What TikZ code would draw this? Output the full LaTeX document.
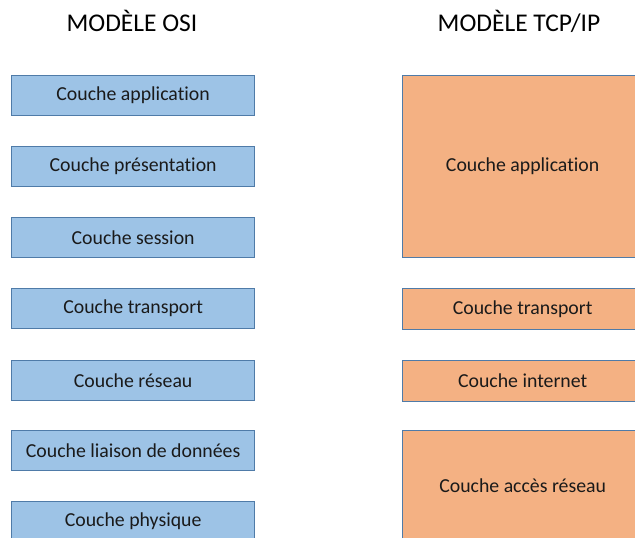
\documentclass[tikz,border=0pt]{standalone}
\usepackage{fontspec}
\setmainfont{Carlito}[Ligatures=NoCommon]
\definecolor{osifill}{HTML}{9DC3E6}
\definecolor{osiline}{HTML}{4F7BA8}
\definecolor{tcpfill}{HTML}{F4B183}
\definecolor{txt}{HTML}{1A1A1A}
\begin{document}
\begin{tikzpicture}[x=1pt,y=-1pt,
  osibox/.style={draw=osiline, fill=osifill, line width=1.3pt, minimum width=243pt, minimum height=40pt, inner sep=0pt, font=\fontsize{19.8}{22}\selectfont, text=txt, anchor=north west},
  tcpbox/.style={draw=osiline, fill=tcpfill, line width=1.3pt, minimum width=240pt, inner sep=0pt, font=\fontsize{19.8}{22}\selectfont, text=txt, anchor=north west},
  title/.style={font=\fontsize{25.5}{28}\selectfont, text=black}]
\useasboundingbox (0,0) rectangle (635,538);
\clip (0,0) rectangle (635,538);
\fill[white] (0,0) rectangle (635,538);
\node[title] (t1) at (132,21) {MODÈLE OSI};
\node[title] (t2) at (519,21) {MODÈLE TCP/IP};
\node[osibox] (o1) at (11,75) {Couche application};
\node[osibox] (o2) at (11,146) {Couche présentation};
\node[osibox] (o3) at (11,217) {Couche session};
\node[osibox] (o4) at (11,288) {Couche transport};
\node[osibox] (o5) at (11,360) {Couche réseau};
\node[osibox] (o6) at (11,430) {Couche liaison de données};
\node[osibox] (o7) at (11,501) {Couche physique};
\node[tcpbox, minimum height=182pt] (p1) at (402,75) {Couche application};
\node[tcpbox, minimum height=41pt] (p2) at (402,288) {Couche transport};
\node[tcpbox, minimum height=41pt] (p3) at (402,360) {Couche internet};
\node[tcpbox, minimum height=110pt] (p4) at (402,430) {Couche accès réseau};
\end{tikzpicture}
\end{document}
